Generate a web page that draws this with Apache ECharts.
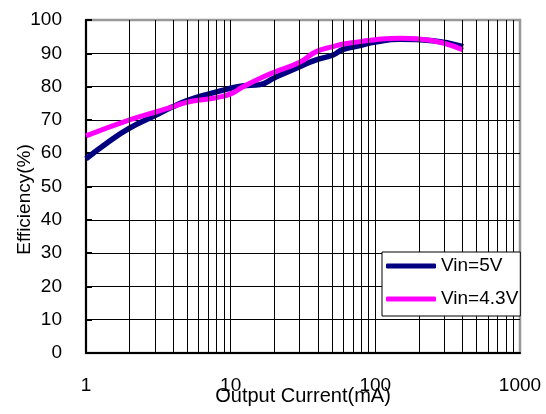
<!DOCTYPE html>
<html>
<head>
<meta charset="utf-8">
<script src="https://cdn.jsdelivr.net/npm/echarts@6/dist/echarts.min.js"></script>
<style>html,body{margin:0;padding:0;background:#fff}#c{width:546px;height:414px}</style>
</head>
<body>
<div id="c"></div>
<script>
var seriesNames = ['Vin=5V', 'Vin=4.3V'];
var vin5 = [[1, 58.3], [1.39, 63], [2, 67.5], [3, 71.3], [4, 74], [5, 75.8], [6.8, 77.6], [10, 79.5], [12, 80.2], [16, 80.6], [20, 82.6], [30, 86], [39, 88], [51, 89.5], [60, 91.2], [78, 92.3], [100, 93.4], [148, 94.2], [250, 93.8], [404, 92]];
var vin43 = [[1, 65.2], [2, 70], [3, 72.3], [4, 74], [5, 75.3], [6.8, 76.2], [8, 76.7], [10, 77.8], [12, 79.8], [16, 82.5], [20, 84.3], [30, 87.3], [39, 90.5], [51, 92], [60, 92.8], [78, 93.5], [100, 94.1], [148, 94.5], [200, 94.3], [294, 93.1], [404, 91]];
var minorX = [2, 3, 4, 5, 6, 7, 8, 9, 20, 30, 40, 50, 60, 70, 80, 90, 200, 300, 400, 500, 600, 700, 800, 900];
var xTicks = [1, 10, 100, 1000];
var yTicks = [0, 10, 20, 30, 40, 50, 60, 70, 80, 90, 100];

var FONT = '"Liberation Sans", Arial, sans-serif';
var chart = echarts.init(document.getElementById('c'), null, {renderer: 'canvas'});
chart.setOption({
  animation: false,
  backgroundColor: '#fff',
  grid: {left: 86, right: 26, top: 20, bottom: 61, containLabel: false, outerBoundsMode: 'none', show: true, borderColor: '#999', borderWidth: 2.5, backgroundColor: 'transparent'},
  xAxis: {
    type: 'log', logBase: 10, min: xTicks[0], max: xTicks[xTicks.length - 1],
    name: 'Output Current(mA)', nameLocation: 'middle', nameGap: 33, nameMoveOverlap: false,
    nameTextStyle: {fontFamily: FONT, fontSize: 20, color: '#000'},
    axisLine: {show: true, lineStyle: {color: '#000', width: 2}},
    axisTick: {show: false},
    axisLabel: {fontFamily: FONT, fontSize: 19, color: '#000', margin: 23, formatter: function (v) { return String(Math.round(v)); }},
    splitLine: {show: true, lineStyle: {color: xTicks.map(function (v, i) { return i === xTicks.length - 1 ? '#999' : '#000'; }), width: 1}}
  },
  yAxis: {
    type: 'value', min: yTicks[0], max: yTicks[yTicks.length - 1], interval: 10,
    name: 'Efficiency(%)', nameLocation: 'middle', nameRotate: 90, nameGap: 52, nameMoveOverlap: false,
    nameTextStyle: {fontFamily: FONT, fontSize: 19, color: '#000', padding: [0, 26, 0, 0]},
    axisLine: {show: true, lineStyle: {color: '#000', width: 2}},
    axisTick: {show: true, inside: true, length: 6, lineStyle: {color: '#000', width: 2}},
    axisLabel: {fontFamily: FONT, fontSize: 19, color: '#000', margin: 24},
    splitLine: {show: true, lineStyle: {color: yTicks.map(function (v, i) { return i === yTicks.length - 1 ? '#999' : '#000'; }), width: 1}}
  },
  legend: {
    data: seriesNames, orient: 'vertical', left: 382, top: 252, z: 20,
    icon: 'roundRect', itemWidth: 50, itemHeight: 5, itemGap: 13,
    padding: [4, 2, 7, 4],
    backgroundColor: '#fff', borderColor: '#000', borderWidth: 1, borderRadius: 0,
    textStyle: {fontFamily: FONT, fontSize: 19, color: '#000', lineHeight: 20}
  },
  series: [
    {
      name: 'minor', type: 'line', data: [], z: 1, silent: true,
      markLine: {
        silent: true, symbol: 'none', label: {show: false},
        lineStyle: {color: '#000', width: 1, type: 'solid'},
        data: minorX.map(function (v) { return {xAxis: v}; })
      }
    },
    {
      name: seriesNames[0], type: 'line', data: vin5, smooth: true, showSymbol: false, symbol: 'none', z: 3,
      lineStyle: {color: '#000080', width: 5.5}, itemStyle: {color: '#000080'}
    },
    {
      name: seriesNames[1], type: 'line', data: vin43, smooth: true, showSymbol: false, symbol: 'none', z: 4,
      lineStyle: {color: '#FF00FF', width: 5}, itemStyle: {color: '#FF00FF'}
    }
  ]
});
</script>
</body>
</html>
